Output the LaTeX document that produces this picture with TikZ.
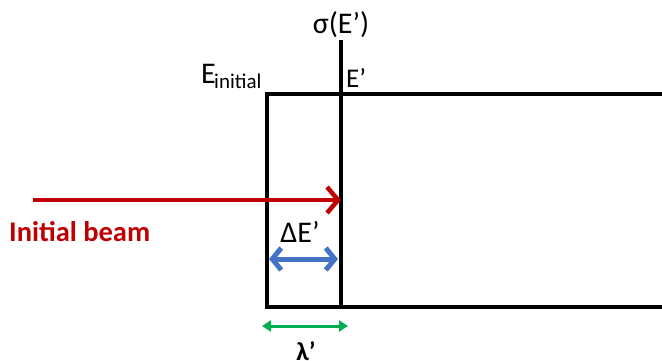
\documentclass[tikz,border=0pt]{standalone}
\usepackage{fontspec}
\setmainfont{Carlito}
\usetikzlibrary{arrows.meta}
\definecolor{beamred}{RGB}{192,0,0}
\definecolor{dblue}{RGB}{68,114,196}
\definecolor{dgreen}{RGB}{0,176,80}
\begin{document}
\begin{tikzpicture}[x=1pt,y=-1pt,
  wall/.style={line width=4pt,black},
  lbl/.style={inner sep=0pt,font=\fontsize{30}{32}\selectfont},
  beam/.style={line width=4pt,beamred,-{Straight Barb[length=11pt,width=26pt,line width=4.5pt]}},
  dE/.style={line width=5pt,dblue,{Straight Barb[length=9pt,width=22pt,line width=5pt]}-{Straight Barb[length=9pt,width=22pt,line width=5pt]}},
  lam/.style={line width=3pt,dgreen,{Triangle[length=9pt,width=11pt]}-{Triangle[length=9pt,width=11pt]}}]
\useasboundingbox (0,0) rectangle (662,360);
\coordinate (tl) at (267,94);
\coordinate (bl) at (267,307);
\coordinate (tr) at (664,94);
\coordinate (br) at (664,307);
\coordinate (vt) at (341,40);
\coordinate (vb) at (341,307);
\draw[wall,line cap=rect] (tr) -- (tl) -- (bl) -- (br);
\draw[wall] (vt) -- (vb);
\coordinate (bs) at (33,200);
\coordinate (be) at (341,200);
\draw[beam] (bs) -- (be);
\node[lbl,text=beamred,font=\bfseries\fontsize{28.5}{30}\selectfont,anchor=base west] (ib) at (9,241) {Initial beam};
\node[lbl,anchor=base] (sig) at (341,33) {σ(E’)};
\node[lbl,anchor=base west] (ei) at (201,83) {E};
\node[lbl,anchor=base west,font=\fontsize{21}{23}\selectfont] (ini) at (214,88) {initial};
\node[lbl,anchor=base west,font=\fontsize{27}{29}\selectfont] (ep) at (346,87) {E’};
\node[lbl,anchor=base] (dEl) at (300,242) {ΔE’};
\coordinate (d1) at (269,259);
\coordinate (d2) at (338,259);
\draw[dE] (d1) -- (d2);
\coordinate (g1) at (262,326);
\coordinate (g2) at (348,326);
\draw[lam] (g1) -- (g2);
\node[lbl,font=\bfseries\fontsize{26}{28}\selectfont,anchor=base] (lam) at (306,360) {λ’};
\end{tikzpicture}
\end{document}
